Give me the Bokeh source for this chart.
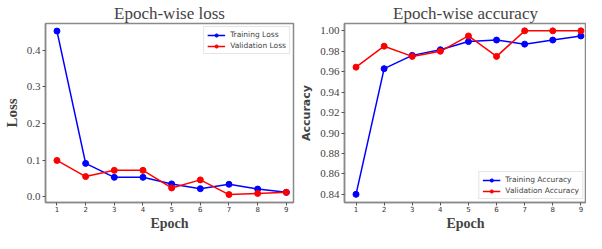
from bokeh.plotting import figure
from bokeh.layouts import row
from bokeh.models import FixedTicker, PrintfTickFormatter, Range1d
from bokeh.embed import file_html
from bokeh.resources import INLINE

epochs = [1, 2, 3, 4, 5, 6, 7, 8, 9]
train_loss = [0.452, 0.091, 0.053, 0.053, 0.035, 0.022, 0.034, 0.021, 0.012]
val_loss = [0.099, 0.055, 0.072, 0.072, 0.024, 0.046, 0.006, 0.009, 0.012]
train_acc = [0.840, 0.963, 0.976, 0.9815, 0.9895, 0.991, 0.987, 0.991, 0.995]
val_acc = [0.9645, 0.985, 0.975, 0.980, 0.995, 0.975, 1.000, 1.000, 1.000]
loss_ticks = [0.0, 0.1, 0.2, 0.3, 0.4]
acc_ticks = [0.84, 0.86, 0.88, 0.90, 0.92, 0.94, 0.96, 0.98, 1.00]

SERIF = "Liberation Serif"
SANS = "DejaVu Sans"


def style(p, yticks, yfmt, ylabel, ylabel_font, ylabel_size):
    p.title.text_font = SERIF
    p.title.text_font_size = "17px"
    p.title.text_font_style = "normal"
    p.title.align = "center"
    p.title.standoff = 2
    p.xgrid.visible = False
    p.ygrid.visible = False
    p.outline_line_color = "#8a8a8a"
    p.outline_line_width = 1.5
    for ax in (p.xaxis[0], p.yaxis[0]):
        ax.axis_line_color = "#8a8a8a"
        ax.axis_line_width = 1.5
        ax.major_tick_line_color = "#555555"
        ax.major_tick_out = 3
        ax.major_tick_in = 0
        ax.minor_tick_line_color = None
    p.xaxis.ticker = FixedTicker(ticks=epochs)
    p.xaxis.major_label_standoff = 0
    p.xaxis.major_label_text_font = SANS
    p.xaxis.major_label_text_font_size = "7px"
    p.xaxis.major_label_text_color = "#333333"
    p.xaxis.axis_label = "Epoch"
    p.xaxis.axis_label_text_font = SERIF
    p.xaxis.axis_label_text_font_size = "14px"
    p.xaxis.axis_label_text_font_style = "bold"
    p.xaxis.axis_label_standoff = 1
    p.yaxis.ticker = FixedTicker(ticks=yticks)
    p.yaxis.formatter = PrintfTickFormatter(format=yfmt)
    p.yaxis.major_label_text_font = SERIF
    p.yaxis.major_label_text_font_size = "11px"
    p.yaxis.major_label_text_color = "#444444"
    p.yaxis.major_label_standoff = 2
    p.yaxis.axis_label = ylabel
    p.yaxis.axis_label_text_font = ylabel_font
    p.yaxis.axis_label_text_font_size = ylabel_size
    p.yaxis.axis_label_text_font_style = "bold"
    p.yaxis.axis_label_standoff = 4


def series(p, y, color, label):
    p.line(epochs, y, line_color=color, line_width=1.5, legend_label=label)
    p.scatter(epochs, y, marker="circle", size=6, fill_color=color,
              line_color=color, legend_label=label)


def legend_style(p, loc):
    lg = p.legend[0]
    lg.location = loc
    lg.label_text_font = SANS
    lg.label_text_font_size = "7.5px"
    lg.label_height = 8
    lg.glyph_height = 8
    lg.glyph_width = 18
    lg.spacing = 2
    lg.padding = 3
    lg.margin = 3
    lg.label_standoff = 5
    lg.border_line_color = "#cccccc"
    lg.border_line_width = 1
    lg.background_fill_alpha = 0.9


p1 = figure(width=297, height=233, output_backend="svg", toolbar_location=None,
            title="Epoch-wise loss",
            x_range=Range1d(0.6, 9.25), y_range=Range1d(-0.0157, 0.4726),
            min_border_left=34, min_border_right=4, min_border_top=22,
            min_border_bottom=0)
style(p1, loss_ticks, "%.1f", "Loss", SERIF, "15px")
series(p1, train_loss, "blue", "Training Loss")
series(p1, val_loss, "red", "Validation Loss")
legend_style(p1, "top_right")

p2 = figure(width=289, height=233, output_backend="svg", toolbar_location=None,
            title="Epoch-wise accuracy",
            x_range=Range1d(0.59, 9.2), y_range=Range1d(0.832, 1.0072),
            min_border_left=41, min_border_right=0, min_border_top=22,
            min_border_bottom=0)
style(p2, acc_ticks, "%.2f", "Accuracy", SANS, "11px")
series(p2, train_acc, "blue", "Training Accuracy")
series(p2, val_acc, "red", "Validation Accuracy")
legend_style(p2, "bottom_right")

layout = row(p1, p2)
open("out.html", "w").write(file_html(layout, INLINE))
